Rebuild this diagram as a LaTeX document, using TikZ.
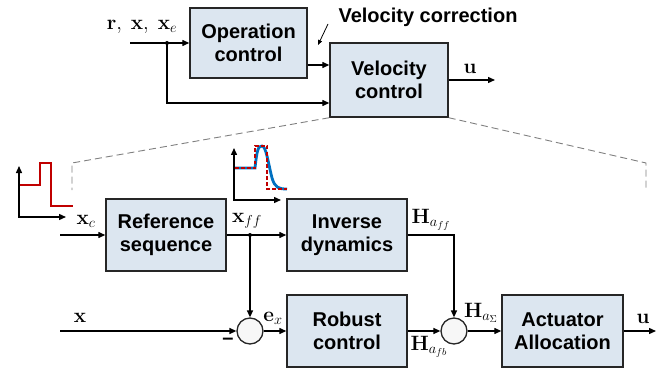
\documentclass[tikz,border=0pt]{standalone}
\usepackage[no-math]{fontspec}
\setmainfont{Liberation Sans}
\usetikzlibrary{arrows.meta,calc}
\definecolor{boxfill}{HTML}{DCE6F0}
\definecolor{stepred}{HTML}{C00000}
\definecolor{curveblue}{HTML}{0070C0}
\begin{document}
\begin{tikzpicture}[x=1pt,y=-1pt,
  blk/.style={draw=black!85, line width=1.4pt, fill=boxfill, minimum width=120pt, minimum height=72pt, align=center, font=\fontsize{20}{23}\selectfont\bfseries, inner sep=0pt},
  sumc/.style={circle, draw=black!85, line width=1.3pt, fill=gray!6, minimum size=26pt, inner sep=0pt},
  arr/.style={-{Triangle[length=7pt,width=6pt]}, line width=1.3pt},
  ln/.style={line width=1.3pt},
  lab/.style={font=\fontsize{20}{22}\selectfont, inner sep=0pt},
  zoomline/.style={draw=gray, line width=0.9pt, dash pattern=on 7pt off 4pt},
  jdot/.style={circle, fill, inner sep=0pt, minimum size=4pt},
  axis/.style={{Triangle[length=7pt,width=6pt]}-{Triangle[length=7pt,width=6pt]}, line width=1.4pt}]
\useasboundingbox (0,0) rectangle (668,374);

% ---------- top level ----------
\node[blk, minimum width=117pt, minimum height=70pt] (oc) at (248.5,43) {Operation\\control};
\node[blk, minimum width=118pt, minimum height=74pt] (vc) at (389,80) {Velocity\\control};

\coordinate (in1) at (130,43);
\node[jdot] (j1) at (167,43) {};
\node[lab] (lin1) at (142,27) {$\mathbf{r},\ \mathbf{x},\ \mathbf{x}_e$};
\draw[arr] (in1) -- (oc.west);
\draw[arr] (j1.center) |- (vc.west |- 0,103);
\draw[arr] (oc.east |- 0,65) -- (vc.west |- 0,65);

\node[lab, font=\fontsize{20}{22}\selectfont\bfseries] (lvc) at (428,17) {Velocity correction};
\coordinate (vca) at (328,24);
\coordinate (vcb) at (318,45);
\draw[-{Triangle[length=5pt,width=4pt]}, line width=0.8pt] (vca) -- (vcb);

\coordinate (uout1) at (495,80);
\draw[arr] (vc.east) -- (uout1);
\node[lab] (lu1) at (470,69) {$\mathbf{u}$};

% zoom lines
\coordinate (zl1) at (72,163);
\coordinate (zl2) at (72,190);
\coordinate (zr1) at (646,163);
\coordinate (zr2) at (646,190);
\draw[zoomline] (vc.south west) -- (zl1) -- (zl2);
\draw[zoomline] (vc.south east) -- (zr1) -- (zr2);

% ---------- bottom level ----------
\node[blk] (rs) at (166,235) {Reference\\sequence};
\node[blk] (id) at (347,235) {Inverse\\dynamics};
\node[blk] (rc) at (347,331) {Robust\\control};
\node[blk, minimum width=121pt] (aa) at (562.5,331) {Actuator\\Allocation};
\node[sumc] (s1) at (250,331) {};
\node[sumc] (s2) at (454,331) {};

\coordinate (xcin) at (60,235);
\draw[arr] (xcin) -- (rs.west);
\node[lab] (lxc) at (86,221) {$\mathbf{x}_c$};

\draw[arr] (rs.east) -- (id.west);
\node[jdot] (j2) at (250,235) {};
\node[lab] (lxff) at (247,221) {$\mathbf{x}_{ff}$};
\draw[arr] (j2.center) -- (s1.north);

\coordinate (xin) at (60,331);
\draw[arr] (xin) -- (s1.west);
\node[lab] (lx) at (80,318) {$\mathbf{x}$};
\node[lab, font=\fontsize{20}{22}\selectfont\bfseries] (lminus) at (228,341) {–};

\draw[arr] (s1.east) -- (rc.west);
\node[lab] (lex) at (273,318) {$\mathbf{e}_x$};

\draw[arr] (rc.east) -- (s2.west);
\node[lab] (lhfb) at (429,347) {$\mathbf{H}_{a_{fb}}$};

\coordinate (hff) at (454,235);
\draw[arr] (id.east) -- (hff) -- (s2.north);
\node[lab] (lhff) at (431,220) {$\mathbf{H}_{a_{ff}}$};

\draw[arr] (s2.east) -- (aa.west);
\node[lab] (lhs) at (481,313) {$\mathbf{H}_{a_\Sigma}$};

\coordinate (uout2) at (656,331);
\draw[arr] (aa.east) -- (uout2);
\node[lab] (lu2) at (643,319) {$\mathbf{u}$};

% ---------- insets ----------
\draw[axis] (19,166) -- (19,217) -- (66,217);
\draw[stepred, line width=2.4pt, line join=miter] (20,185) -- (40,185) -- (40,163) -- (51,163) -- (51,206) -- (73,206);

\draw[axis] (234,148) -- (234,200) -- (281,200);
\draw[curveblue, line width=2.8pt] (235,168) -- (255,168)
  .. controls (257,150) and (258,146) .. (262,146)
  .. controls (266,146) and (268,162) .. (272,178)
  .. controls (275,188) and (279,189) .. (287,189);
\draw[stepred, line width=2.8pt, dash pattern=on 3.5pt off 2.5pt] (235,168) -- (255,168) -- (255,146) -- (267,146) -- (267,189) -- (287,189);
\end{tikzpicture}
\end{document}
